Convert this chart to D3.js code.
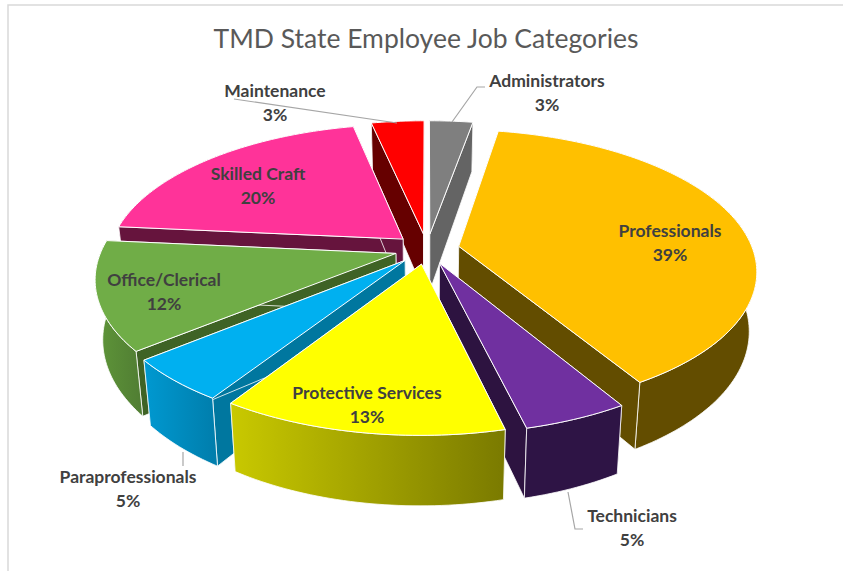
<!DOCTYPE html>
<html>
<head>
<meta charset="utf-8">
<script src="https://cdn.jsdelivr.net/npm/d3@7"></script>
<style>
    html, body { margin: 0; padding: 0; background: #fff; }
    svg { display: block; }
    text { font-family: Lato, "Open Sans", sans-serif; text-anchor: middle; }
    .title { font-size: 26.5px; fill: #595959; }
    .label { font-size: 17.5px; font-weight: 700; fill: #404040; }
    .leader { fill: none; stroke: #a6a6a6; stroke-width: 1.2; }
</style>
</head>
<body>
<svg id="chart" width="843" height="571"></svg>
<script>
const chartTitle = "TMD State Employee Job Categories";
const categories = ["Administrators", "Professionals", "Technicians", "Protective Services",
    "Paraprofessionals", "Office/Clerical", "Skilled Craft", "Maintenance"];
// the labels show them rounded
const percents = [2.8, 38.6, 4.8, 12.95, 4.95, 12.4, 20.1, 3.4];

const topColors = ["#7f7f7f", "#ffc000", "#7030a0", "#ffff00", "#00b0f0", "#70ad47", "#ff3399", "#ff0000"];
const cutColors = ["#646464", "#634d00", "#2d1340", "#666600", "#00779f", "#3f6325", "#66143d", "#660000"];
const wallLeft = ["#646464", "#634d00", "#2e1445", "#c9c900", "#0099d1", "#5f9639", "#66143d", "#660000"];
const wallRight = ["#646464", "#634d00", "#2e1445", "#7a7a00", "#007dab", "#507d33", "#66143d", "#660000"];

// where the labels sit, centre of the name line
const labelAt = [[547, 81], [670, 231], [632, 516], [367, 393], [128, 477], [164, 280], [258, 174], [275, 91]];
const leaderLines = [
    [[452, 122], [477, 87], [485, 87]],
    [[234, 99], [397, 123]],
    [[183, 452], [183, 466]],
    [[568, 492], [575, 529], [583, 529]]
];

const svg = d3.select("#chart");
const cx = 427, cy = 249;
const radius = 294, flat = 137;
const explode = 0.11;
const perspective = 0.167;

const xScale = d3.scaleLinear().domain([-1, 1]).range([cx - radius, cx + radius]);
const yScale = d3.scaleLinear().domain([-1, 1]).range([cy - flat, cy + flat]);

// disc coordinates to the screen, top plane or bottom plane
function project(X, Z, bottom) {
    let p = 1 / (1 - perspective * Z);
    let sx = xScale(X * p);
    let sy = yScale(Z * p);
    if (bottom) {
        sx = cx + (sx - cx) * 0.977;
        sy = sy + 3 + 55 * p;
    }
    return [sx, sy];
}

let slices = d3.pie().sort(null).value(d => d)(percents).map((d, i) => {
    let mid = (d.startAngle + d.endAngle) / 2;
    return {
        i: i,
        start: d.startAngle,
        end: d.endAngle,
        ox: explode * Math.sin(mid),
        oz: -explode * Math.cos(mid),
        depth: -Math.cos(mid)
    };
});

const line = d3.line();
const defs = svg.append("defs");

function rimPoints(s, bottom) {
    return d3.range(s.start, s.end, 0.02).concat([s.end]).map(a =>
        project(s.ox + Math.sin(a), s.oz - Math.cos(a), bottom));
}

// chart frame
svg.append("path").attr("d", line([[8, 571], [8, 5], [843, 5]]))
    .attr("fill", "none").attr("stroke", "#d9d9d9").attr("stroke-width", 1.5);

svg.append("text").attr("class", "title").attr("x", 426).attr("y", 48).text(chartTitle);

slices.sort((a, b) => d3.ascending(a.depth, b.depth));

slices.forEach(s => {
    let g = svg.append("g");
    let apexTop = project(s.ox, s.oz, false);
    let apexBottom = project(s.ox, s.oz, true);
    let rimTop = rimPoints(s, false);
    let rimBottom = rimPoints(s, true);

    let gradId = "wall" + s.i;
    let grad = defs.append("linearGradient").attr("id", gradId);
    grad.append("stop").attr("offset", "0%").attr("stop-color", wallLeft[s.i]);
    grad.append("stop").attr("offset", "100%").attr("stop-color", wallRight[s.i]);

    function drawWall() {
        g.append("path")
            .attr("d", line(rimTop.concat(rimBottom.slice().reverse())) + "Z")
            .attr("fill", "url(#" + gradId + ")")
            .attr("stroke", "#fff")
            .attr("stroke-width", 0.8);
    }

    // back slices: the rim is hidden, it must not cross the cut faces
    if (s.depth < 0) drawWall();

    [[rimTop[0], rimBottom[0]], [rimTop[rimTop.length - 1], rimBottom[rimBottom.length - 1]]].forEach(edge => {
        g.append("path")
            .attr("d", line([apexTop, edge[0], edge[1], apexBottom]) + "Z")
            .attr("fill", cutColors[s.i])
            .attr("stroke", "#fff")
            .attr("stroke-width", 0.8);
    });

    if (s.depth >= 0) drawWall();

    // top face
    g.append("path")
        .attr("d", line([apexTop].concat(rimTop)) + "Z")
        .attr("fill", topColors[s.i])
        .attr("stroke", "#fff")
        .attr("stroke-width", 1);
});

leaderLines.forEach(pts => {
    svg.append("path").attr("class", "leader").attr("d", line(pts));
});

categories.forEach((name, i) => {
    svg.append("text").attr("class", "label")
        .attr("x", labelAt[i][0]).attr("y", labelAt[i][1] + 6).text(name);
    svg.append("text").attr("class", "label")
        .attr("x", labelAt[i][0]).attr("y", labelAt[i][1] + 30).text(Math.round(percents[i]) + "%");
});
</script>
</body>
</html>
